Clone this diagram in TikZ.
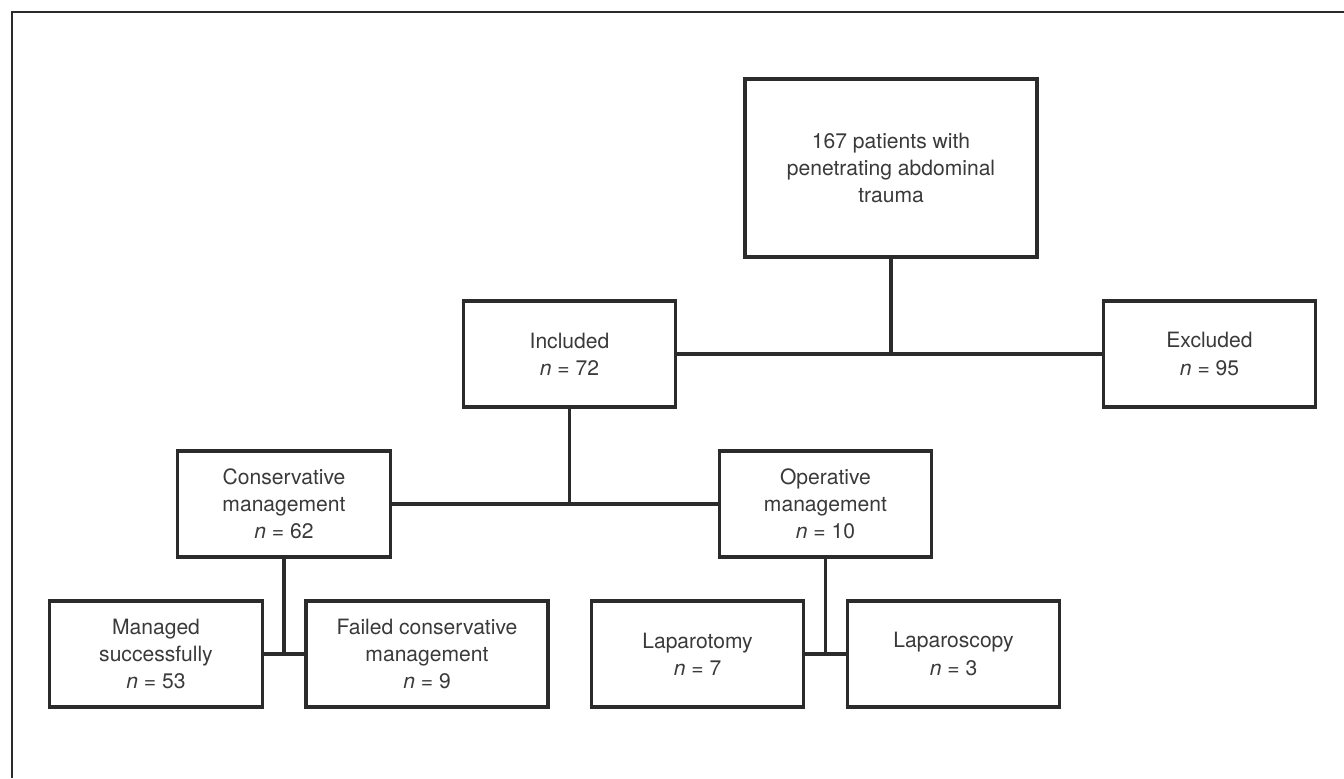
\documentclass[tikz,border=0pt]{standalone}
\usepackage{fontspec}
\setmainfont{TeX Gyre Heros}
\definecolor{boxline}{HTML}{2B2B2B}
\definecolor{boxtext}{HTML}{3A3A3A}

\begin{document}
\begin{tikzpicture}[x=0.02cm,y=-0.02cm]
		\useasboundingbox (0,0) rectangle (1344,778);
		\draw[boxline, line width=0.9pt] (12,778) -- (12,12) -- (1344,12);

		\begin{scope}[every node/.style={rectangle,draw=boxline,line width=1.8pt,text=boxtext,align=center,inner sep=0pt,font=\fontsize{12}{15.5}\selectfont,minimum width=4.25cm,minimum height=2.12cm}]
			\node[minimum width=5.84cm,minimum height=3.56cm] (T) at (891,168) {167 patients with\\penetrating abdominal\\trauma};
			\node (I) at (569.5,354) {Included\\\textit{n} = 72};
			\node (E) at (1209.5,354) {Excluded\\\textit{n} = 95};
			\node (C) at (284,504) {Conservative\\management\\\textit{n} = 62};
			\node (O) at (825.5,504) {Operative\\management\\\textit{n} = 10};
			\node (M) at (156,654) {Managed\\successfully\\\textit{n} = 53};
			\node[minimum width=4.84cm] (F) at (427,654) {Failed conservative\\management\\\textit{n} = 9};
			\node (LT) at (697.5,654) {Laparotomy\\\textit{n} = 7};
			\node (LS) at (953.5,654) {Laparoscopy\\\textit{n} = 3};
		\end{scope}

		\begin{scope}[every edge/.style={draw=boxline, line width=1.8pt}]
			\path (I) edge (E);
			\path (T.south) edge (T.south |- E.west);
			\path (C) edge (O);
			\path (I.south) edge (I.south |- C.east);
			\path (M) edge (F);
			\path (C.south) edge (C.south |- M.east);
			\path (LT) edge (LS);
			\path (O.south) edge (O.south |- LT.east);
		\end{scope}
	\end{tikzpicture}
\end{document}
